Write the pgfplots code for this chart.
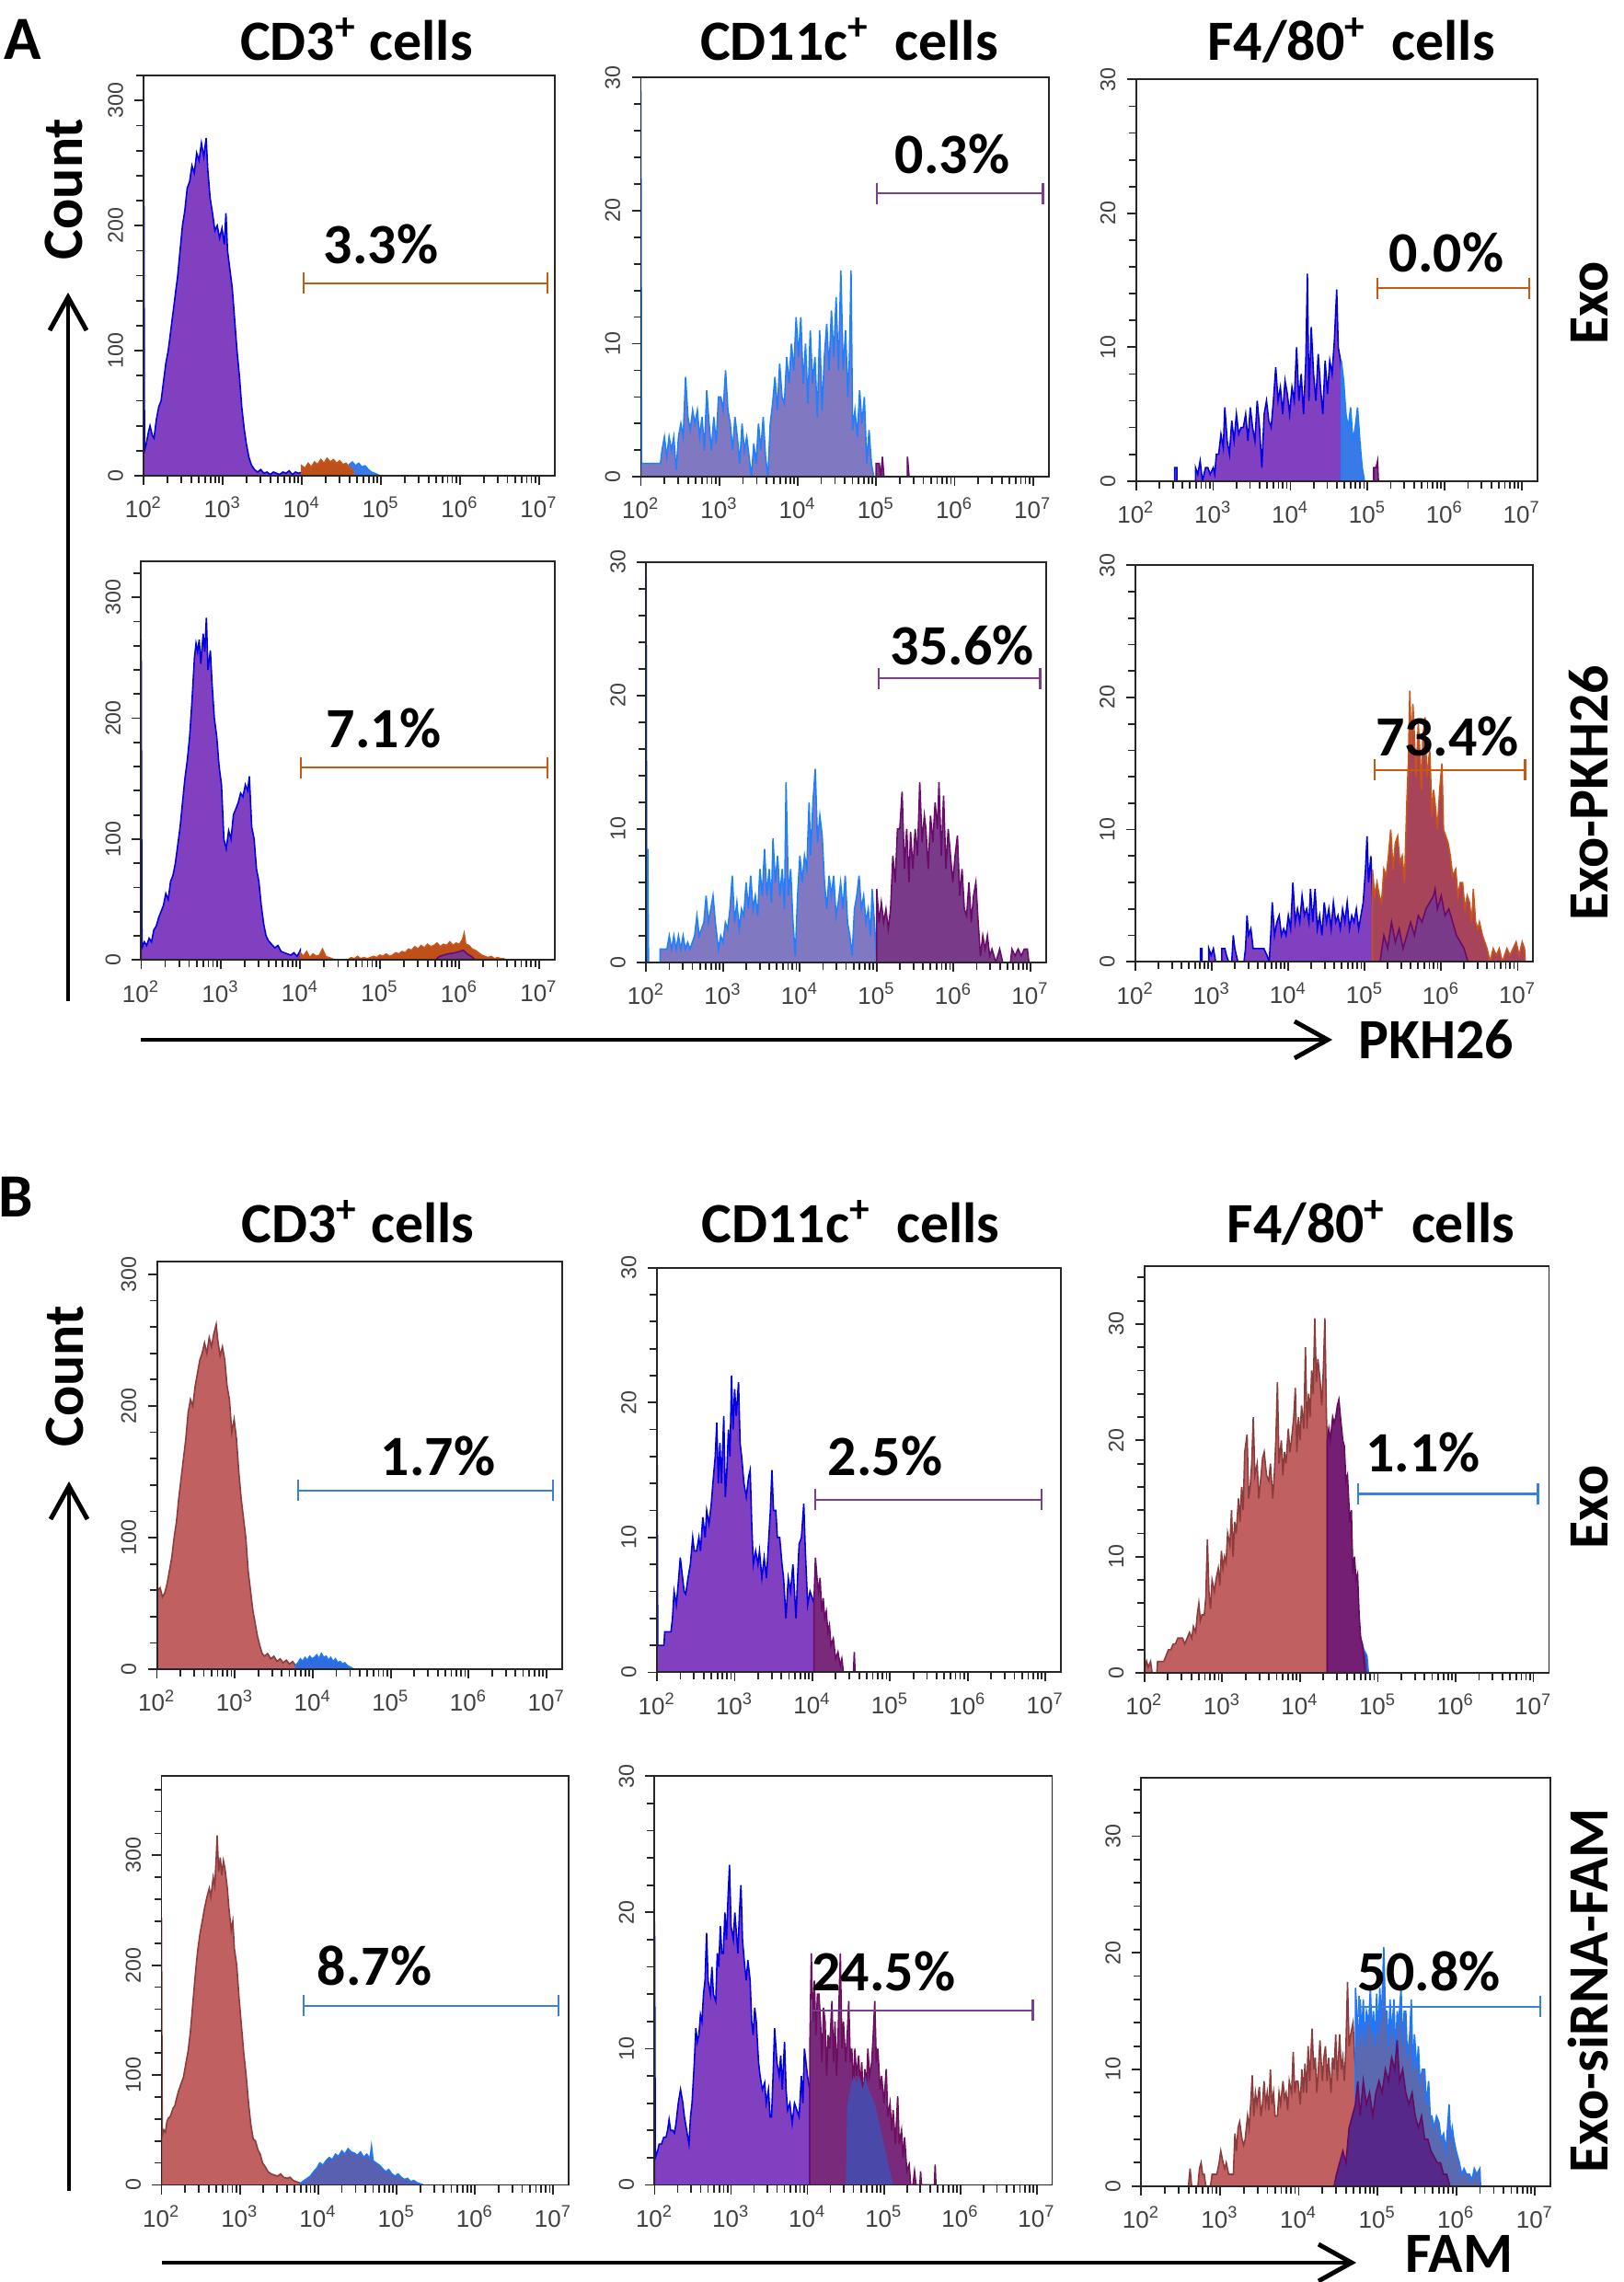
\documentclass[border=0pt]{standalone}
\usepackage{fontspec}
\setmainfont{Carlito}
\newfontfamily\arial{Liberation Sans}
\usepackage{pgfplots}
\pgfplotsset{compat=1.18}
\usetikzlibrary{arrows.meta}

\definecolor{bedge}{HTML}{0000E6}
\definecolor{purp}{HTML}{8040C0}
\definecolor{lbedge}{HTML}{1E7FFF}
\definecolor{lav}{HTML}{8078C0}
\definecolor{oredge}{HTML}{C8541A}
\definecolor{orfill}{HTML}{C0501A}
\definecolor{dpedge}{HTML}{6A0A6A}
\definecolor{dpfill}{HTML}{7A3A8A}
\definecolor{ltbfill}{HTML}{3A7AE8}
\definecolor{rosefill}{HTML}{A8445A}
\definecolor{gor}{HTML}{C55A11}
\definecolor{gpu}{HTML}{7B3F8B}
\definecolor{gbl}{HTML}{3A80D8}
\definecolor{redfill}{HTML}{C06060}
\definecolor{rededge}{HTML}{8C3C3C}
\definecolor{bbedge}{HTML}{1E78FF}
\definecolor{b1fill}{HTML}{2E6CE0}
\definecolor{b4fill}{HTML}{5A60B0}
\definecolor{b3pfill}{HTML}{741E74}
\definecolor{b3pedge}{HTML}{650A60}
\definecolor{magfill}{HTML}{7A2A7A}
\definecolor{magedge}{HTML}{6E0E5E}
\definecolor{innerblue}{HTML}{4A48A8}
\definecolor{b6fill}{HTML}{5A6AB0}
\definecolor{b6dp}{HTML}{56288A}

\newcommand\lbl{\fontsize{17.6}{20}\selectfont\bfseries}

\tikzset{
  gate/.style={line width=0.6pt, {Bar[width=0.23cm]}-{Bar[width=0.23cm]}},
  hl/.style={line width=0.45pt},
  edgelbl/.style={font=\lbl, anchor=base, inner sep=0pt, text depth=0pt, text height=0.42cm},
}

\pgfplotsset{
  flow/.style={
    scale only axis, anchor=south west,
    xmin=2, xmax=7.2, ymin=0,
    axis line style={draw=black!85, line width=0.55pt},
    xtick={2,3,4,5,6,7},
    xticklabels={10\textsuperscript{2},10\textsuperscript{3},10\textsuperscript{4},10\textsuperscript{5},10\textsuperscript{6},10\textsuperscript{7}},
    minor xtick={2.301,2.477,2.602,2.699,2.778,2.845,2.903,2.954,
                 3.301,3.477,3.602,3.699,3.778,3.845,3.903,3.954,
                 4.301,4.477,4.602,4.699,4.778,4.845,4.903,4.954,
                 5.301,5.477,5.602,5.699,5.778,5.845,5.903,5.954,
                 6.301,6.477,6.602,6.699,6.778,6.845,6.903,6.954},
    tick align=outside, xtick pos=bottom, ytick pos=left,
    major tick length=0.1cm, minor tick length=0.08cm,
    tick style={draw=black!85, line width=0.5pt},
    tick label style={text=black!75},
    xticklabel style={font=\arial\fontsize{7.4}{8}\selectfont},
    yticklabel style={font=\arial\fontsize{6.6}{7.5}\selectfont, rotate=90, anchor=south},
    /pgf/number format/assume math mode=true,
    axis on top,
  },
  y30/.style={ymax=30, ytick={0,10,20,30}, minor ytick={2,4,6,8,12,14,16,18,22,24,26,28}},
  y35/.style={ymax=35, ytick={0,10,20,30}, minor ytick={2,4,6,8,12,14,16,18,22,24,26,28,32,34}},
}

\begin{document}
\begin{tikzpicture}
\path[use as bounding box] (0,0) rectangle (17.64,24.80);

% ---------------- A1 ----------------
\begin{axis}[flow, at={(1.562cm,19.629cm)}, width=4.468cm, height=4.35cm,
  ymax=320, ytick={0,100,200,300}, minor ytick={20,40,60,80,120,140,160,180,220,240,260,280,320}]
\addplot[hl, draw=bedge, fill=purp] coordinates {(2.00,0)(2.00,300)(2.01,20)(2.03,25)(2.06,35)(2.08,40)(2.11,32)(2.13,30)(2.16,45)(2.19,55)(2.22,60)(2.25,75)(2.28,90)(2.31,100)(2.34,115)(2.37,130)(2.40,145)(2.43,160)(2.46,180)(2.49,200)(2.52,212)(2.55,230)(2.58,235)(2.61,248)(2.64,242)(2.67,258)(2.70,252)(2.73,266)(2.76,255)(2.79,270)(2.81,245)(2.84,222)(2.87,210)(2.90,196)(2.93,200)(2.96,190)(2.99,198)(3.02,185)(3.04,210)(3.06,180)(3.09,165)(3.12,150)(3.15,125)(3.18,100)(3.21,80)(3.24,55)(3.27,38)(3.30,25)(3.33,15)(3.36,9)(3.40,5)(3.44,3)(3.48,5)(3.52,2)(3.56,3)(3.60,1)(3.64,3)(3.68,2)(3.72,1)(3.76,3)(3.80,2)(3.84,4)(3.88,1)(3.92,3)(3.96,2)(4.00,3)(4.00,0)};
\addplot[hl, draw=lbedge, fill=ltbfill] coordinates {(4.58,0)(4.60,9)(4.64,11)(4.68,8)(4.72,10)(4.76,7)(4.80,8)(4.84,5)(4.88,3)(4.92,2)(4.96,1)(4.98,0)};
\addplot[hl, draw=oredge, fill=orfill] coordinates {(4.00,0)(4.00,8)(4.04,6)(4.08,10)(4.12,7)(4.16,11)(4.20,9)(4.24,13)(4.28,10)(4.32,14)(4.36,11)(4.40,13)(4.44,10)(4.48,12)(4.52,9)(4.56,10)(4.60,7)(4.64,5)(4.66,0)};
\draw[gate, gor] (4.01,154) -- (7.12,154);
\end{axis}

% ---------------- A2 ----------------
\begin{axis}[flow, y30, at={(6.965cm,19.618cm)}, width=4.432cm, height=4.339cm]
\addplot[hl, draw=lbedge, fill=lav] coordinates {(2.00,0)(2.00,29)(2.01,1)(2.25,1)(2.27,2)(2.30,3)(2.33,1.5)(2.36,3)(2.39,2)(2.42,3)(2.45,0.5)(2.48,3)(2.51,4)(2.54,3)(2.57,7.5)(2.60,4.5)(2.63,3.5)(2.66,5)(2.69,4)(2.72,5)(2.75,3)(2.78,4.5)(2.81,2)(2.84,6.5)(2.87,4)(2.90,2)(2.93,4.5)(2.96,2.5)(2.99,6)(3.02,6)(3.05,5)(3.08,8)(3.11,5)(3.14,4)(3.17,2)(3.20,4.5)(3.23,3)(3.26,1)(3.29,4)(3.32,2)(3.35,3)(3.38,1.5)(3.41,0)(3.44,2.5)(3.47,1)(3.50,4)(3.53,2)(3.56,4.5)(3.59,1.5)(3.62,0)(3.65,4)(3.68,5.5)(3.71,7.5)(3.74,5)(3.77,8.5)(3.80,6)(3.83,5.5)(3.86,9)(3.89,7)(3.92,10)(3.95,8)(3.98,12)(4.01,9)(4.04,12)(4.07,7)(4.10,10)(4.13,5.5)(4.16,11)(4.19,7)(4.22,9)(4.25,4.5)(4.28,11)(4.31,5)(4.34,9)(4.37,11.5)(4.40,8)(4.43,12.5)(4.46,9)(4.49,13.5)(4.52,8)(4.55,15.5)(4.58,8)(4.61,11)(4.64,6)(4.66,9)(4.68,15.5)(4.70,3.5)(4.73,5)(4.76,3)(4.79,6.5)(4.82,4)(4.85,6)(4.88,1)(4.91,3.5)(4.94,1)(4.97,0)};
\addplot[hl, draw=dpedge, fill=dpfill] coordinates {(5.00,0)(5.00,1)(5.04,1)(5.06,0)(5.08,1.5)(5.10,0)(5.40,0)(5.40,1.5)(5.42,0)};
\draw[gate, gpu] (5.0,21.3) -- (7.14,21.3);
\end{axis}

% ---------------- A3 ----------------
\begin{axis}[flow, y30, at={(12.347cm,19.572cm)}, width=4.361cm, height=4.364cm]
\addplot[hl, draw=bedge, fill=purp] coordinates {(2.50,0)(2.50,1)(2.53,1)(2.53,0)(2.77,0)(2.77,1)(2.80,0.5)(2.83,1.5)(2.86,0)(2.90,1)(2.93,1)(2.96,0.5)(3.00,1)(3.02,0.5)(3.04,2)(3.07,2)(3.10,3.5)(3.13,2.5)(3.15,5.5)(3.18,3)(3.21,2)(3.24,4.5)(3.27,3)(3.30,5)(3.33,3.5)(3.36,4)(3.39,4)(3.42,5)(3.45,3)(3.48,5.5)(3.51,4)(3.54,3)(3.57,6)(3.60,4)(3.63,1)(3.66,5)(3.69,6)(3.72,4.5)(3.75,4)(3.78,6)(3.81,8.5)(3.84,6)(3.87,7)(3.90,5)(3.93,7.5)(3.96,6.5)(3.99,5)(4.02,7)(4.05,6)(4.08,10)(4.11,6)(4.14,8)(4.17,5)(4.20,9)(4.22,15.5)(4.24,6)(4.27,11.5)(4.30,8)(4.33,6)(4.36,9.5)(4.39,7)(4.42,5)(4.45,9)(4.48,6.5)(4.51,9)(4.54,8)(4.57,10.5)(4.60,14.3)(4.62,10)(4.65,9)(4.68,7)(4.68,0)};
\addplot[hl, draw=lbedge, fill=ltbfill] coordinates {(4.66,0)(4.66,9)(4.69,7.5)(4.72,5)(4.75,4)(4.78,5.5)(4.81,3)(4.84,4)(4.87,5.5)(4.90,3)(4.93,1)(4.96,0)};
\addplot[hl, draw=dpedge, fill=dpfill] coordinates {(5.08,0)(5.08,1)(5.11,1)(5.13,1.5)(5.14,0)};
\draw[gate, gor] (5.11,14.4) -- (7.11,14.4);
\end{axis}

% ---------------- A4 ----------------
\begin{axis}[flow, at={(1.534cm,14.367cm)}, width=4.496cm, height=4.335cm,
  ymax=330, ytick={0,100,200,300}, minor ytick={20,40,60,80,120,140,160,180,220,240,260,280,320}]
\addplot[hl, draw=bedge, fill=purp] coordinates {(2.00,0)(2.00,265)(2.01,10)(2.04,15)(2.07,12)(2.10,18)(2.13,15)(2.16,25)(2.19,28)(2.22,35)(2.25,40)(2.28,45)(2.31,55)(2.34,50)(2.37,65)(2.40,70)(2.43,80)(2.46,95)(2.49,110)(2.52,130)(2.55,150)(2.58,165)(2.61,185)(2.64,215)(2.67,250)(2.69,262)(2.71,255)(2.73,265)(2.75,245)(2.78,270)(2.80,255)(2.82,283)(2.84,240)(2.87,256)(2.89,230)(2.92,200)(2.95,185)(2.98,160)(3.01,145)(3.04,100)(3.07,92)(3.10,107)(3.13,100)(3.16,120)(3.19,125)(3.22,130)(3.25,138)(3.28,135)(3.31,145)(3.34,140)(3.36,152)(3.39,110)(3.42,100)(3.45,75)(3.48,65)(3.51,45)(3.54,30)(3.57,20)(3.60,16)(3.64,13)(3.68,10)(3.72,12)(3.76,7)(3.80,6)(3.84,5)(3.88,4)(3.92,6)(3.96,3)(4.00,8)(4.00,0)};
\addplot[hl, draw=oredge, fill=orfill] coordinates {(4.00,0)(4.00,6)(4.04,3)(4.08,7)(4.12,2)(4.16,5)(4.20,3)(4.24,4)(4.28,9)(4.32,3)(4.36,2)(4.40,1)(4.44,0)(4.60,0)(4.64,2)(4.68,1)(4.72,3)(4.76,1)(4.80,2)(4.84,1)(4.88,2)(4.92,3)(4.96,2)(5.00,4)(5.04,3)(5.08,5)(5.12,3)(5.16,4)(5.20,6)(5.24,5)(5.28,7)(5.32,6)(5.36,9)(5.40,8)(5.44,11)(5.48,9)(5.52,12)(5.56,10)(5.60,13)(5.64,11)(5.68,12)(5.72,14)(5.76,11)(5.80,13)(5.84,12)(5.88,15)(5.92,12)(5.96,14)(6.00,13)(6.04,17)(6.06,22)(6.08,13)(6.12,12)(6.16,9)(6.20,8)(6.24,6)(6.28,4)(6.32,3)(6.36,2)(6.40,3)(6.44,1)(6.48,2)(6.52,1)(6.56,1)(6.58,0)};
\addplot[hl, draw=dpedge, fill=dpfill] coordinates {(5.70,0)(5.75,3)(5.85,5)(5.95,6)(6.05,8)(6.10,5)(6.15,3)(6.20,0)};
\draw[gate, gor] (4.0,159) -- (7.12,159);
\end{axis}

% ---------------- A5 ----------------
\begin{axis}[flow, y30, at={(7.023cm,14.34cm)}, width=4.343cm, height=4.351cm]
\addplot[hl, draw=lbedge, fill=lav] coordinates {(2.00,0)(2.00,29)(2.01,0)(2.02,8.5)(2.03,0)(2.18,0)(2.18,1)(2.27,1)(2.30,2)(2.33,1)(2.36,2)(2.39,1)(2.42,2)(2.45,1)(2.48,2)(2.51,1)(2.54,1.5)(2.57,1)(2.60,1.5)(2.63,2)(2.66,3.5)(2.69,2)(2.72,2.5)(2.75,3)(2.78,5)(2.81,3)(2.84,4)(2.87,5)(2.90,3)(2.94,1)(2.97,2)(3.00,1.5)(3.03,3)(3.06,2.5)(3.09,4)(3.12,6.5)(3.15,3)(3.18,4.5)(3.21,2.5)(3.24,4)(3.27,3.5)(3.30,6)(3.33,4)(3.36,6.5)(3.39,4)(3.42,5)(3.45,3.5)(3.48,7)(3.51,5)(3.54,8.5)(3.57,5)(3.60,7)(3.63,4.5)(3.65,9.3)(3.68,6)(3.71,8)(3.74,5)(3.77,7)(3.80,4)(3.82,13.5)(3.85,5)(3.88,7)(3.91,3)(3.94,0.5)(3.97,5)(4.00,8)(4.03,6)(4.06,8)(4.09,7)(4.12,12)(4.14,8)(4.17,12)(4.20,14.5)(4.23,9)(4.26,11)(4.29,9.5)(4.32,6)(4.35,4)(4.38,6.5)(4.41,5)(4.44,6.5)(4.47,3.5)(4.50,4.5)(4.53,6)(4.56,4)(4.59,6.5)(4.62,3)(4.65,2)(4.68,0.5)(4.71,4)(4.74,5)(4.77,6.5)(4.80,4)(4.83,5)(4.86,3)(4.89,4)(4.92,2)(4.94,5.5)(4.97,3)(5.00,0)};
\addplot[hl, draw=dpedge, fill=dpfill] coordinates {(5.00,0)(5.00,5.5)(5.03,3)(5.06,4.5)(5.09,3)(5.12,4)(5.15,2.5)(5.18,4)(5.21,8)(5.24,6)(5.27,10)(5.30,10)(5.33,12.8)(5.36,7)(5.39,10)(5.42,6)(5.44,9.8)(5.47,7)(5.50,10)(5.53,8)(5.56,13.5)(5.59,9)(5.62,11)(5.64,10)(5.67,7)(5.70,11)(5.73,9)(5.76,12)(5.79,10)(5.81,13.5)(5.84,8)(5.87,12.5)(5.90,7)(5.93,10)(5.96,8)(5.99,6)(6.02,8)(6.05,9.5)(6.08,5)(6.11,7)(6.14,4)(6.17,3.5)(6.20,6)(6.23,3)(6.26,5)(6.29,6)(6.32,3)(6.35,0.5)(6.38,2)(6.41,1)(6.44,2)(6.47,0.5)(6.50,1)(6.55,0)(6.60,1)(6.64,0)(6.74,0)(6.76,1)(6.80,0.5)(6.84,1)(6.88,0.5)(6.92,1)(6.96,1)(6.98,0)};
\draw[gate, gpu] (5.01,21.3) -- (7.14,21.3);
\end{axis}

% ---------------- A6 ----------------
\begin{axis}[flow, y30, at={(12.34cm,14.347cm)}, width=4.32cm, height=4.31cm]
\addplot[hl, draw=bedge, fill=purp] coordinates {(2.85,0)(2.85,1)(2.87,1)(2.87,0)(2.96,0)(2.96,1)(2.99,0.5)(3.02,1)(3.05,0)(3.13,0)(3.13,1)(3.17,1)(3.19,0.5)(3.22,0)(3.26,0)(3.28,2)(3.30,1)(3.32,0.5)(3.34,0)(3.42,0)(3.44,1)(3.46,3.5)(3.48,2)(3.51,2.5)(3.54,1)(3.57,1)(3.60,1)(3.64,1)(3.68,1)(3.72,0.5)(3.75,0)(3.77,2)(3.79,4.5)(3.82,2)(3.85,3)(3.88,3.5)(3.91,2)(3.94,2.5)(3.97,2)(4.00,3.5)(4.03,2.5)(4.06,6)(4.09,3)(4.12,4)(4.15,3)(4.18,5)(4.21,3.5)(4.24,4)(4.27,3)(4.29,5.5)(4.32,3)(4.35,5.5)(4.38,2.5)(4.41,3.5)(4.44,2)(4.47,4.5)(4.50,3)(4.53,4)(4.56,2.5)(4.59,4.5)(4.62,3)(4.65,3.5)(4.68,2.5)(4.71,4)(4.74,3)(4.77,4.5)(4.80,2.5)(4.83,3.5)(4.86,3)(4.89,4)(4.92,2.5)(4.95,3.5)(4.98,4.5)(5.01,7)(5.03,9.5)(5.05,6)(5.08,8)(5.10,5)(5.12,0)};
\addplot[hl, draw=oredge, fill=rosefill] coordinates {(5.10,0)(5.10,7)(5.13,5)(5.16,6)(5.19,5)(5.22,4.5)(5.25,7)(5.28,6.5)(5.31,8)(5.34,10)(5.37,7)(5.40,9)(5.43,9.5)(5.46,7.5)(5.49,8)(5.52,6)(5.55,12)(5.57,15)(5.59,20.5)(5.61,16)(5.63,19.5)(5.65,17)(5.67,14)(5.70,18)(5.72,16)(5.74,13)(5.76,17)(5.79,18.5)(5.81,14)(5.83,15)(5.85,16)(5.88,11)(5.90,13)(5.92,12)(5.95,10)(5.98,13)(6.01,15)(6.03,10)(6.06,9.5)(6.09,9)(6.12,8)(6.15,6.5)(6.19,7)(6.22,5)(6.25,6)(6.28,6)(6.31,4)(6.34,5)(6.37,4.5)(6.40,3)(6.42,5.5)(6.45,3)(6.48,2.5)(6.50,3)(6.54,2)(6.57,1.5)(6.60,1)(6.64,0)(6.68,1)(6.72,0.5)(6.76,1)(6.80,0)(6.86,1)(6.90,0.5)(6.94,1)(6.98,1.5)(7.02,0.5)(7.06,1.5)(7.09,1)(7.10,0)};
\addplot[hl, draw=dpedge, fill=dpfill] coordinates {(5.20,0)(5.25,2)(5.30,1)(5.35,3)(5.40,1.5)(5.45,2.5)(5.50,1)(5.55,2)(5.60,3)(5.65,2)(5.70,3.5)(5.75,3)(5.80,4)(5.85,4.5)(5.90,5)(5.92,5.5)(5.95,4)(6.00,5)(6.05,3.5)(6.10,4)(6.15,3)(6.20,2)(6.25,1.5)(6.30,1)(6.35,0)};
\draw[gate, gor] (5.12,14.5) -- (7.11,14.5);
\end{axis}

% ---------------- B1 ----------------
\begin{axis}[flow, at={(1.706cm,6.658cm)}, width=4.404cm, height=4.436cm,
  ymax=310, ytick={0,100,200,300}, minor ytick={20,40,60,80,120,140,160,180,220,240,260,280}]
\addplot[hl, draw=rededge, fill=redfill] coordinates {(2.00,0)(2.00,212)(2.01,60)(2.04,62)(2.07,55)(2.10,58)(2.13,65)(2.16,75)(2.19,85)(2.22,100)(2.25,112)(2.28,130)(2.31,145)(2.34,160)(2.37,175)(2.40,195)(2.43,205)(2.46,200)(2.49,215)(2.52,225)(2.55,235)(2.58,240)(2.61,248)(2.64,240)(2.67,252)(2.70,245)(2.73,255)(2.76,262)(2.78,250)(2.81,238)(2.84,245)(2.87,235)(2.90,215)(2.93,205)(2.96,180)(2.99,190)(3.02,175)(3.05,150)(3.08,130)(3.11,115)(3.14,100)(3.17,75)(3.20,60)(3.23,45)(3.26,35)(3.29,25)(3.32,18)(3.35,12)(3.38,10)(3.42,12)(3.46,8)(3.50,10)(3.54,6)(3.58,8)(3.62,5)(3.66,7)(3.70,4)(3.74,6)(3.78,3)(3.80,0)};
\addplot[hl, draw=bbedge, fill=b1fill] coordinates {(3.78,0)(3.78,3)(3.81,5)(3.84,8)(3.87,6)(3.90,9)(3.93,7)(3.96,10)(3.99,8)(4.02,9)(4.05,11)(4.08,8)(4.11,12)(4.14,9)(4.17,10)(4.20,7)(4.23,9)(4.26,6)(4.29,8)(4.32,5)(4.35,6)(4.38,4)(4.41,5)(4.44,3)(4.47,2)(4.50,1)(4.53,0)};
\draw[gate, gbl] (3.80,136) -- (7.09,136);
\end{axis}

% ---------------- B2 ----------------
\begin{axis}[flow, y30, at={(7.14cm,6.626cm)}, width=4.39cm, height=4.397cm]
\addplot[hl, draw=bedge, fill=purp] coordinates {(2.00,0)(2.00,19.5)(2.01,2)(2.09,2)(2.10,3)(2.18,3)(2.20,4)(2.22,6)(2.25,5)(2.28,7)(2.30,8.5)(2.33,7)(2.35,6)(2.37,5.8)(2.40,7)(2.43,8)(2.46,10)(2.48,9)(2.51,9)(2.54,10)(2.56,9)(2.59,11.5)(2.62,10)(2.64,12)(2.67,11)(2.70,12.5)(2.72,14)(2.75,16)(2.77,18.5)(2.79,14)(2.81,17)(2.83,14)(2.86,19)(2.88,13)(2.90,15)(2.92,18)(2.94,16)(2.96,22)(2.98,18)(3.00,21)(3.02,19)(3.05,21.5)(3.07,17)(3.09,16)(3.12,14)(3.15,13)(3.18,14.5)(3.20,15)(3.22,11)(3.24,8)(3.27,9)(3.30,8)(3.32,9)(3.35,7)(3.38,8.5)(3.41,7)(3.44,10)(3.46,12)(3.48,15)(3.50,12)(3.53,12)(3.55,10)(3.58,10)(3.61,8)(3.63,7)(3.66,4)(3.69,7)(3.72,6)(3.75,8)(3.77,6)(3.79,4)(3.81,7)(3.83,9.5)(3.86,10)(3.89,12.5)(3.91,9)(3.94,5)(3.97,6)(4.00,5.5)(4.03,5)(4.03,0)};
\addplot[hl, draw=dpedge, fill=magfill] coordinates {(4.02,0)(4.02,5)(4.04,8.5)(4.06,7)(4.08,6)(4.10,7)(4.12,4.5)(4.14,5.5)(4.16,4)(4.18,4.5)(4.20,3)(4.22,3.5)(4.24,2)(4.27,2.5)(4.30,1)(4.33,1.5)(4.36,0.5)(4.38,1)(4.40,0)(4.53,0)(4.54,1.5)(4.55,0)};
\draw[gate, gpu] (4.03,12.8) -- (6.96,12.8);
\end{axis}

% ---------------- B3 ----------------
\begin{axis}[flow, y35, at={(12.437cm,6.618cm)}, width=4.398cm, height=4.425cm]
\addplot[hl, draw=rededge, fill=redfill] coordinates {(2.00,0)(2.00,3.5)(2.01,0.5)(2.03,1)(2.05,0.5)(2.08,1)(2.10,0)(2.16,0)(2.17,1)(2.25,1)(2.28,1.5)(2.31,2)(2.34,2)(2.37,2.5)(2.40,2.5)(2.43,3)(2.46,3)(2.49,3)(2.52,2.5)(2.55,3)(2.58,3.5)(2.61,3)(2.63,4)(2.66,3.5)(2.68,5)(2.70,6)(2.72,4.5)(2.74,5)(2.77,5)(2.79,6.5)(2.81,11.5)(2.83,7)(2.85,5.5)(2.87,8)(2.90,7)(2.92,8)(2.95,9)(2.97,7.5)(2.99,10.5)(3.01,9)(3.03,10)(3.05,9.5)(3.07,12)(3.10,11)(3.12,14)(3.14,10)(3.16,13)(3.18,12)(3.21,15)(3.23,13)(3.25,16)(3.27,14)(3.29,19)(3.32,20.5)(3.34,15)(3.36,16)(3.38,18)(3.40,22)(3.42,17)(3.45,18)(3.47,15)(3.50,17)(3.52,18.5)(3.54,19)(3.57,17)(3.60,16.5)(3.62,18)(3.65,15)(3.67,17)(3.69,20)(3.71,25)(3.73,18)(3.76,20)(3.78,17)(3.80,19)(3.82,18)(3.85,21)(3.87,19)(3.89,20)(3.92,22)(3.94,24.5)(3.96,19)(3.98,22)(4.00,20)(4.02,23)(4.05,21)(4.07,28)(4.09,21)(4.11,24)(4.13,22)(4.15,26)(4.17,24)(4.19,30.5)(4.21,25)(4.23,27)(4.26,25)(4.28,23)(4.30,26)(4.32,30.5)(4.34,22)(4.35,20)(4.35,0)};
\addplot[hl, draw=bbedge, fill=innerblue] coordinates {(4.73,0)(4.74,2.5)(4.78,3)(4.82,2)(4.86,1.5)(4.88,0)};
\addplot[hl, draw=b3pedge, fill=b3pfill] coordinates {(4.35,0)(4.35,20)(4.37,21)(4.39,20)(4.42,22)(4.44,21.5)(4.46,22)(4.48,23)(4.50,23.5)(4.52,22)(4.55,20)(4.57,19.5)(4.59,16.5)(4.61,17)(4.64,13)(4.66,14)(4.68,8.5)(4.70,10)(4.72,8)(4.74,8.5)(4.76,5)(4.78,3)(4.80,2.5)(4.82,1.5)(4.84,0)};
\draw[gate, gbl] (4.73,15.4) -- (7.07,15.4);
\end{axis}

% ---------------- B4 ----------------
\begin{axis}[flow, at={(1.755cm,1.055cm)}, width=4.429cm, height=4.442cm,
  ymax=372, ytick={0,100,200,300}, minor ytick={20,40,60,80,120,140,160,180,220,240,260,280,320,340,360}]
\addplot[hl, draw=rededge, fill=redfill] coordinates {(2.00,0)(2.00,243)(2.01,45)(2.03,50)(2.05,48)(2.07,58)(2.09,61)(2.11,62)(2.13,66)(2.15,70)(2.17,72)(2.19,78)(2.22,86)(2.25,92)(2.28,98)(2.31,110)(2.34,122)(2.37,140)(2.40,165)(2.43,190)(2.46,212)(2.49,228)(2.52,240)(2.55,252)(2.58,262)(2.61,270)(2.63,262)(2.66,280)(2.68,272)(2.70,300)(2.71,318)(2.73,285)(2.75,298)(2.77,282)(2.79,295)(2.81,288)(2.84,270)(2.86,252)(2.89,232)(2.91,240)(2.93,215)(2.96,200)(2.99,170)(3.02,145)(3.05,120)(3.08,100)(3.11,75)(3.14,55)(3.17,42)(3.20,40)(3.23,32)(3.26,28)(3.29,20)(3.32,17)(3.36,12)(3.40,10)(3.44,9)(3.48,8)(3.52,10)(3.56,7)(3.60,6)(3.64,7)(3.68,4)(3.72,3)(3.76,2)(3.78,0)};
\addplot[hl, draw=bbedge, fill=b4fill] coordinates {(3.76,0)(3.78,2)(3.82,4)(3.86,6)(3.90,8)(3.94,12)(3.98,15)(4.02,20)(4.06,18)(4.10,22)(4.14,25)(4.18,23)(4.22,28)(4.26,26)(4.30,31)(4.34,28)(4.38,33)(4.42,30)(4.46,29)(4.50,27)(4.54,30)(4.58,25)(4.62,28)(4.66,24)(4.68,35)(4.70,22)(4.74,20)(4.78,18)(4.82,15)(4.86,12)(4.90,14)(4.94,10)(4.98,8)(5.02,10)(5.06,7)(5.10,5)(5.14,6)(5.18,3)(5.22,4)(5.26,2)(5.30,1)(5.34,0)};
\draw[gate, gbl] (3.80,163) -- (7.08,163);
\end{axis}

% ---------------- B5 ----------------
\begin{axis}[flow, y30, at={(7.114cm,1.055cm)}, width=4.321cm, height=4.442cm]
\addplot[hl, draw=bedge, fill=purp] coordinates {(2.00,0)(2.00,19.3)(2.01,2)(2.04,2.5)(2.06,3)(2.09,3)(2.12,3.5)(2.15,3.5)(2.17,4)(2.19,4.8)(2.21,4)(2.24,4)(2.26,3.8)(2.28,4.5)(2.31,6)(2.34,7)(2.37,6)(2.39,5)(2.42,4)(2.45,3)(2.47,5)(2.49,6)(2.52,9)(2.54,11.5)(2.56,10.5)(2.58,11)(2.60,12.5)(2.62,12)(2.64,14)(2.66,15)(2.68,18.5)(2.70,15)(2.73,14)(2.75,16)(2.77,14)(2.80,13.5)(2.82,17)(2.84,16)(2.86,19)(2.88,17)(2.90,17)(2.92,20)(2.94,18)(2.96,21)(2.98,23.5)(3.00,19)(3.03,18)(3.05,20)(3.07,18.5)(3.09,17)(3.11,20)(3.13,22)(3.15,18)(3.18,16)(3.20,15)(3.22,16.5)(3.25,15)(3.27,12)(3.29,11)(3.31,13)(3.33,12)(3.36,9)(3.38,8)(3.41,7)(3.44,7.5)(3.46,6)(3.49,7)(3.51,5)(3.53,5)(3.55,8)(3.57,11.5)(3.60,9)(3.63,8)(3.65,9.5)(3.67,7)(3.70,10.5)(3.72,7)(3.74,5.5)(3.77,6)(3.80,4.5)(3.83,6)(3.86,5.5)(3.89,5)(3.92,8)(3.94,6)(3.96,10)(3.98,9)(4.00,8)(4.03,7)(4.03,0)};
\addplot[hl, draw=magedge, fill=magfill] coordinates {(4.03,0)(4.03,10)(4.05,17)(4.07,12)(4.09,15)(4.11,11)(4.13,14)(4.15,14)(4.17,12)(4.19,9)(4.21,13)(4.23,12)(4.25,8)(4.27,11)(4.29,10)(4.32,13.5)(4.34,9)(4.36,12)(4.38,8)(4.40,11)(4.43,17)(4.45,10)(4.47,12)(4.50,9)(4.52,11)(4.54,13.5)(4.56,9)(4.58,10)(4.60,7)(4.62,10)(4.64,8)(4.67,9.5)(4.69,7)(4.71,9)(4.73,6)(4.75,8.5)(4.77,7)(4.79,10)(4.81,8)(4.84,9)(4.86,11)(4.88,13.5)(4.90,9)(4.92,10)(4.95,7)(4.97,8)(5.00,6)(5.03,8.5)(5.05,5)(5.08,6)(5.10,4)(5.12,5.5)(5.15,3)(5.18,6.5)(5.20,3)(5.23,4)(5.25,2)(5.27,3.5)(5.30,1)(5.33,1.5)(5.35,0)(5.38,0)(5.40,1)(5.42,0)(5.47,0)(5.48,1)(5.49,0)(5.66,0)(5.67,1.5)(5.68,0)};
\addplot[hl, draw=none, fill=innerblue] coordinates {(4.50,0)(4.52,6)(4.56,7)(4.60,8)(4.64,7.5)(4.68,8)(4.72,7)(4.76,8)(4.80,7)(4.84,6.5)(4.88,6)(4.92,5)(4.96,4)(5.00,3)(5.04,2)(5.08,1)(5.12,0)};
\draw[gate, gpu] (4.04,12.8) -- (6.96,12.8);
\end{axis}

% ---------------- B6 ----------------
\begin{axis}[flow, y35, at={(12.403cm,1.043cm)}, width=4.45cm, height=4.435cm]
\addplot[hl, draw=rededge, fill=redfill] coordinates {(2.60,0)(2.62,1.5)(2.64,0)(2.72,0)(2.74,1.5)(2.76,2)(2.78,1)(2.80,1)(2.82,0)(2.88,0)(2.90,1)(2.93,1)(2.96,1)(2.99,2)(3.01,3)(3.04,2)(3.06,1.5)(3.08,2)(3.11,1)(3.14,1)(3.17,1)(3.19,4.5)(3.21,3)(3.23,5)(3.25,5.5)(3.28,4)(3.30,3.5)(3.32,4)(3.35,6)(3.37,5)(3.39,7)(3.41,9.5)(3.43,6)(3.45,8)(3.47,7)(3.50,8.5)(3.52,6)(3.54,7)(3.56,9)(3.58,7)(3.60,8)(3.62,6.5)(3.64,10)(3.66,7)(3.68,8)(3.70,6)(3.73,6)(3.75,8)(3.77,7)(3.80,9)(3.82,7.5)(3.84,8)(3.86,6.5)(3.88,9)(3.91,8)(3.93,11.5)(3.95,8)(3.97,9)(3.99,9)(4.02,7)(4.04,10)(4.06,8)(4.08,10.5)(4.10,8)(4.12,12)(4.14,9)(4.17,13.5)(4.19,10)(4.21,11)(4.23,8)(4.25,10)(4.27,12.5)(4.30,9)(4.32,11)(4.34,12)(4.36,9)(4.38,11)(4.41,8)(4.43,11)(4.45,10)(4.47,13)(4.49,9)(4.52,13)(4.54,10)(4.56,11)(4.58,9)(4.60,12)(4.62,17.5)(4.64,12)(4.66,13)(4.69,14)(4.71,11)(4.73,10)(4.73,0)};
\addplot[hl, draw=bbedge, fill=b6fill] coordinates {(4.72,0)(4.72,17)(4.74,15)(4.76,12)(4.78,16)(4.80,13)(4.82,16)(4.84,12)(4.86,15)(4.89,14)(4.91,17)(4.93,13)(4.95,15)(4.97,12)(4.99,16.5)(5.01,13)(5.03,17)(5.05,14)(5.08,20.5)(5.10,15)(5.12,15)(5.14,12)(5.16,16)(5.18,13)(5.21,16)(5.23,11)(5.25,15)(5.27,14)(5.30,17)(5.32,12)(5.34,15)(5.36,15)(5.38,11)(5.41,13)(5.43,16)(5.45,10)(5.47,13)(5.50,10)(5.52,12)(5.54,9)(5.57,10)(5.60,10)(5.62,7)(5.65,9)(5.67,6)(5.69,6)(5.72,5)(5.75,6)(5.78,5.5)(5.81,4)(5.84,4.5)(5.87,3)(5.89,5)(5.91,7)(5.93,4)(5.95,5)(5.97,4)(6.00,3)(6.02,2.5)(6.04,2)(6.07,1)(6.10,1.5)(6.13,1)(6.17,1)(6.20,0.5)(6.23,1.5)(6.26,1)(6.30,1.5)(6.31,0)};
\addplot[hl, draw=b3pedge, fill=b6dp] coordinates {(4.45,0)(4.48,1)(4.52,2)(4.56,3)(4.60,2)(4.64,5)(4.68,6)(4.72,7)(4.75,9)(4.78,6)(4.82,9)(4.86,7)(4.90,8)(4.94,6)(4.98,8)(5.02,9)(5.06,8)(5.10,10)(5.14,9)(5.18,11)(5.22,10)(5.25,12.5)(5.28,9)(5.32,10)(5.36,8)(5.40,7)(5.44,8)(5.48,6)(5.52,5)(5.56,6)(5.60,4)(5.64,4)(5.68,3)(5.72,2.5)(5.76,2)(5.80,2)(5.84,1)(5.88,1)(5.92,0)};
\draw[gate, gbl] (4.75,15.4) -- (7.08,15.4);
\end{axis}

% ---------------- text ----------------
\node[font=\fontsize{19}{21}\selectfont\bfseries, anchor=base] at (0.245,24.15) {A};
\node[font=\fontsize{19}{21}\selectfont\bfseries, anchor=base] at (0.175,11.57) {B};

\node[font=\lbl, anchor=base] at (3.875,24.14) {CD3\textsuperscript{+} cells};
\node[font=\lbl, anchor=base] at (9.23,24.14) {CD11c\textsuperscript{+}\ \ cells};
\node[font=\lbl, anchor=base] at (14.685,24.14) {F4/80\textsuperscript{+}\ \ cells};
\node[font=\lbl, anchor=base] at (3.89,11.29) {CD3\textsuperscript{+} cells};
\node[font=\lbl, anchor=base] at (9.247,11.29) {CD11c\textsuperscript{+}\ \ cells};
\node[font=\lbl, anchor=base] at (14.90,11.29) {F4/80\textsuperscript{+}\ \ cells};

\node[font=\lbl, anchor=base] at (4.14,21.93) {3.3\%};
\node[font=\lbl, anchor=base] at (10.35,22.91) {0.3\%};
\node[font=\lbl, anchor=base] at (15.72,21.84) {0.0\%};
\node[font=\lbl, anchor=base] at (4.17,16.67) {7.1\%};
\node[font=\lbl, anchor=base] at (10.456,17.574) {35.6\%};
\node[font=\lbl, anchor=base] at (15.73,16.58) {73.4\%};
\node[font=\lbl, anchor=base] at (4.76,8.76) {1.7\%};
\node[font=\lbl, anchor=base] at (9.62,8.76) {2.5\%};
\node[font=\lbl, anchor=base] at (15.466,8.80) {1.1\%};
\node[font=\lbl, anchor=base] at (4.07,3.22) {8.7\%};
\node[font=\lbl, anchor=base] at (9.604,3.163) {24.5\%};
\node[font=\lbl, anchor=base] at (15.53,3.163) {50.8\%};

\node[edgelbl, rotate=90] at (0.89,22.745) {Count};
\node[edgelbl, rotate=90] at (0.90,9.84) {Count};
\node[edgelbl, rotate=90] at (17.47,21.505) {Exo};
\node[edgelbl, rotate=90] at (17.47,16.18) {Exo-PKH26};
\node[edgelbl, rotate=90] at (17.47,8.42) {Exo};
\node[edgelbl, rotate=90] at (17.47,3.165) {Exo-siRNA-FAM};
\node[font=\lbl, anchor=base] at (15.61,13.29) {PKH26};
\node[edgelbl] at (15.86,0.10) {FAM};

\draw[line width=1.4pt, -{Straight Barb[length=3.6mm,width=4mm]}] (0.74,13.92) -- (0.74,21.62);
\draw[line width=1.4pt, -{Straight Barb[length=3.6mm,width=4mm]}] (1.53,13.50) -- (14.48,13.50);
\draw[line width=1.4pt, -{Straight Barb[length=3.6mm,width=4mm]}] (0.75,0.985) -- (0.75,8.70);
\draw[line width=1.4pt, -{Straight Barb[length=3.6mm,width=4mm]}] (1.755,0.21) -- (14.74,0.21);
\end{tikzpicture}
\end{document}
